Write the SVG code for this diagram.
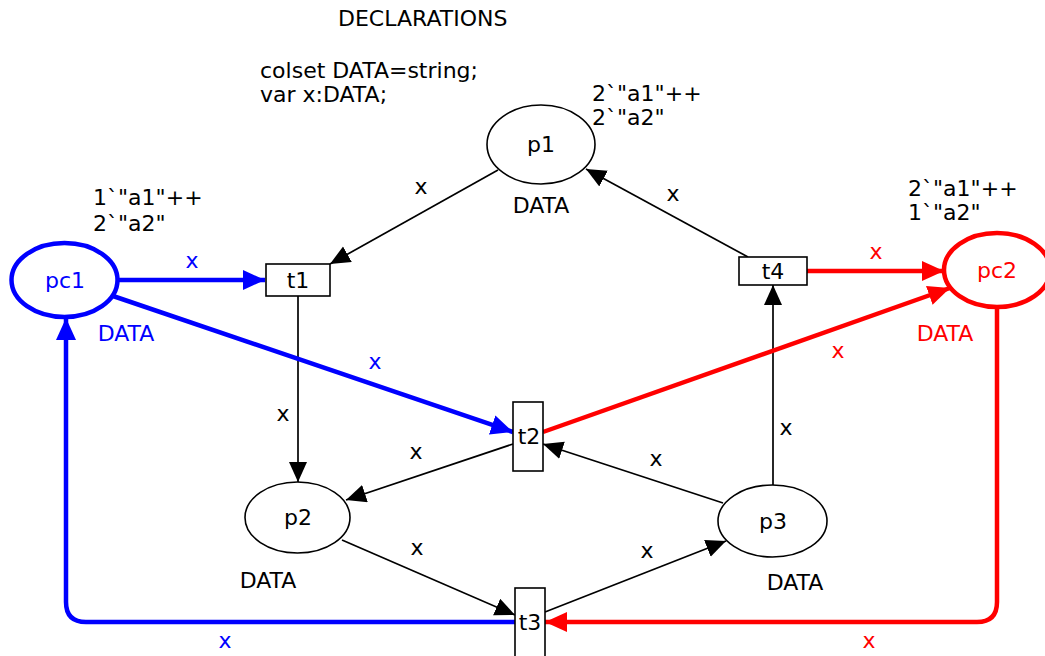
<svg xmlns="http://www.w3.org/2000/svg" width="1045" height="656" viewBox="0 0 1045 656">
  <style>
    text { font-family: "DejaVu Sans", Verdana, sans-serif; font-size: 22px; fill: #000; }
    .blue { fill: #0000ff; }
    .red { fill: #ff0000; }
    .mid { text-anchor: middle; }
    .place { fill: #fff; stroke: #000; stroke-width: 1.6; }
    .place-blue { fill: #fff; stroke: #0000ff; stroke-width: 4.5; }
    .place-red { fill: #fff; stroke: #ff0000; stroke-width: 4.5; }
    .trans { fill: #fff; stroke: #000; stroke-width: 1.6; }
    .arc { fill: none; stroke: #000; stroke-width: 1.7; }
    .arc-blue { fill: none; stroke: #0000ff; stroke-width: 4.5; }
    .arc-red { fill: none; stroke: #ff0000; stroke-width: 4.5; }
  </style>
  <defs>
    <marker id="ah" markerUnits="userSpaceOnUse" markerWidth="22" markerHeight="20" refX="20" refY="9" orient="auto">
      <path d="M0,0 L20,9 L0,18 Z" fill="#000"/>
    </marker>
    <marker id="ah-blue" markerUnits="userSpaceOnUse" markerWidth="24" markerHeight="22" refX="22" refY="10" orient="auto">
      <path d="M0,0 L22,10 L0,20 Z" fill="#0000ff"/>
    </marker>
    <marker id="ah-red" markerUnits="userSpaceOnUse" markerWidth="24" markerHeight="22" refX="22" refY="10" orient="auto">
      <path d="M0,0 L22,10 L0,20 Z" fill="#ff0000"/>
    </marker>
  </defs>

  <!-- declarations -->
  <g id="declarations">
    <text x="338" y="26">DECLARATIONS</text>
    <text x="260" y="78">colset DATA=string;</text>
    <text x="260" y="102">var x:DATA;</text>
  </g>

  <!-- arcs -->
  <g id="arcs">
    <line class="arc" x1="498" y1="170" x2="330" y2="264" marker-end="url(#ah)"/>
    <line class="arc" x1="748" y1="257" x2="586" y2="169" marker-end="url(#ah)"/>
    <line class="arc" x1="298" y1="296" x2="298" y2="482" marker-end="url(#ah)"/>
    <line class="arc" x1="513" y1="444" x2="346" y2="500" marker-end="url(#ah)"/>
    <line class="arc" x1="723" y1="503" x2="543" y2="444" marker-end="url(#ah)"/>
    <line class="arc" x1="773" y1="485" x2="773" y2="285" marker-end="url(#ah)"/>
    <line class="arc" x1="342" y1="540" x2="515" y2="615" marker-end="url(#ah)"/>
    <line class="arc" x1="545" y1="612" x2="726" y2="541" marker-end="url(#ah)"/>

    <line class="arc-blue" x1="118" y1="280" x2="265" y2="280" marker-end="url(#ah-blue)"/>
    <line class="arc-blue" x1="113" y1="296" x2="513" y2="432" marker-end="url(#ah-blue)"/>
    <path class="arc-blue" d="M515,622 H86 Q66,622 66,602 V318" marker-end="url(#ah-blue)"/>

    <line class="arc-red" x1="807" y1="271" x2="944" y2="271" marker-end="url(#ah-red)"/>
    <line class="arc-red" x1="543" y1="432" x2="950" y2="288" marker-end="url(#ah-red)"/>
    <path class="arc-red" d="M997,307 V602 Q997,622 977,622 H545" marker-end="url(#ah-red)"/>

    <!-- arc inscriptions -->
    <text class="mid" x="421" y="194">x</text>
    <text class="mid" x="673" y="201">x</text>
    <text class="mid" x="283" y="421">x</text>
    <text class="mid" x="786" y="435">x</text>
    <text class="mid" x="416" y="459">x</text>
    <text class="mid" x="656" y="466">x</text>
    <text class="mid" x="417" y="555">x</text>
    <text class="mid" x="647" y="558">x</text>
    <text class="mid blue" x="192" y="268">x</text>
    <text class="mid blue" x="375" y="369">x</text>
    <text class="mid blue" x="225" y="648">x</text>
    <text class="mid red" x="876" y="259">x</text>
    <text class="mid red" x="838" y="358">x</text>
    <text class="mid red" x="869" y="648">x</text>
  </g>

  <!-- places -->
  <g id="p1">
    <ellipse class="place" cx="541" cy="144.5" rx="54" ry="39.5"/>
    <text class="mid" x="541" y="152">p1</text>
    <text class="mid" x="541" y="213">DATA</text>
    <text x="592" y="101">2`"a1"++</text>
    <text x="592" y="125">2`"a2"</text>
  </g>
  <g id="p2">
    <ellipse class="place" cx="297.5" cy="517.5" rx="52.5" ry="35.5"/>
    <text class="mid" x="298" y="525">p2</text>
    <text class="mid" x="268" y="588">DATA</text>
  </g>
  <g id="p3">
    <ellipse class="place" cx="772.5" cy="521" rx="54.5" ry="36"/>
    <text class="mid" x="773" y="529">p3</text>
    <text class="mid" x="795" y="590">DATA</text>
  </g>
  <g id="pc1">
    <ellipse class="place-blue" cx="64.5" cy="280" rx="53" ry="37"/>
    <text class="mid blue" x="65" y="288">pc1</text>
    <text class="mid blue" x="126" y="341">DATA</text>
    <text x="93" y="205">1`"a1"++</text>
    <text x="93" y="231">2`"a2"</text>
  </g>
  <g id="pc2">
    <ellipse class="place-red" cx="997" cy="270" rx="53" ry="37"/>
    <text class="mid red" x="997" y="278">pc2</text>
    <text class="mid red" x="945" y="341">DATA</text>
    <text x="908" y="196">2`"a1"++</text>
    <text x="908" y="220">1`"a2"</text>
  </g>

  <!-- transitions -->
  <g id="t1">
    <rect class="trans" x="266" y="264" width="64" height="32"/>
    <text class="mid" x="298" y="288">t1</text>
  </g>
  <g id="t2">
    <rect class="trans" x="513" y="402" width="30" height="69"/>
    <text class="mid" x="529" y="444">t2</text>
  </g>
  <g id="t3">
    <rect class="trans" x="515" y="588" width="30" height="72"/>
    <text class="mid" x="530" y="630">t3</text>
  </g>
  <g id="t4">
    <rect class="trans" x="739" y="257" width="68" height="28"/>
    <text class="mid" x="773" y="279">t4</text>
  </g>
</svg>
